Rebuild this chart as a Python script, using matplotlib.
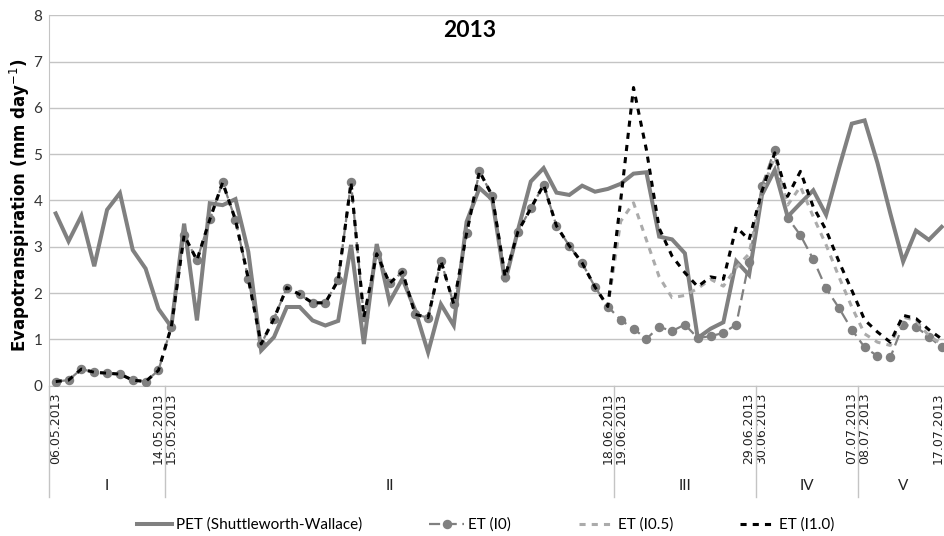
import numpy as np
import matplotlib
matplotlib.use("Agg")
import matplotlib.pyplot as plt
import matplotlib.transforms as mtransforms

# tick labels on the category axis (index -> date)
tick_idx = [0, 8, 9, 43, 44, 54, 55, 62, 63, 69]
tick_labels = ["06.05.2013", "14.05.2013", "15.05.2013", "18.06.2013", "19.06.2013",
               "29.06.2013", "30.06.2013", "07.07.2013", "08.07.2013", "17.07.2013"]

# periods I..V (first index of each period)
group_names = ["I", "II", "III", "IV", "V"]
group_starts = [0, 9, 44, 55, 63]
n_days = 70

pet = [3.72, 3.12, 3.67, 2.58, 3.80, 4.16, 2.93, 2.53, 1.66, 1.27,
       3.50, 1.41, 3.94, 3.90, 4.03, 2.89, 0.76, 1.05, 1.70, 1.70,
       1.41, 1.30, 1.40, 3.04, 0.90, 3.06, 1.81, 2.31, 1.63, 0.72,
       1.76, 1.30, 3.54, 4.27, 4.02, 2.24, 3.36, 4.41, 4.70, 4.17,
       4.12, 4.32, 4.19, 4.25, 4.36, 4.58, 4.61, 3.22, 3.16, 2.86,
       1.03, 1.23, 1.37, 2.69, 2.39, 4.12, 4.66, 3.65, 3.94, 4.22,
       3.69, 4.70, 5.66, 5.73, 4.81, 3.72, 2.68, 3.35, 3.15, 3.43]

et_i0 = [0.09, 0.12, 0.36, 0.29, 0.27, 0.25, 0.12, 0.09, 0.33, 1.27,
         3.25, 2.71, 3.59, 4.39, 3.58, 2.31, 0.90, 1.45, 2.12, 1.97,
         1.79, 1.79, 2.28, 4.39, 1.48, 2.85, 2.21, 2.46, 1.54, 1.47,
         2.70, 1.76, 3.29, 4.63, 4.10, 2.35, 3.33, 3.83, 4.34, 3.45,
         3.02, 2.65, 2.13, 1.71, 1.42, 1.23, 1.01, 1.27, 1.18, 1.32,
         1.03, 1.07, 1.14, 1.32, 2.68, 4.32, 5.10, 3.63, 3.25, 2.73,
         2.10, 1.68, 1.21, 0.83, 0.64, 0.61, 1.32, 1.27, 1.06, 0.83]

et_i05 = [0.09, 0.12, 0.36, 0.29, 0.27, 0.25, 0.12, 0.09, 0.33, 1.27,
          3.25, 2.71, 3.59, 4.39, 3.58, 2.31, 0.90, 1.45, 2.12, 1.97,
          1.79, 1.79, 2.28, 4.39, 1.48, 2.85, 2.21, 2.46, 1.54, 1.47,
          2.70, 1.76, 3.29, 4.63, 4.10, 2.35, 3.33, 3.83, 4.34, 3.45,
          3.02, 2.65, 2.13, 1.71, 3.55, 3.95, 3.15, 2.35, 1.90, 1.95,
          2.10, 2.30, 2.15, 2.55, 2.85, 4.20, 4.95, 3.90, 4.30, 3.65,
          3.04, 2.35, 1.70, 1.12, 0.94, 0.87, 1.48, 1.41, 1.08, 0.90]

et_i10 = [0.09, 0.12, 0.36, 0.29, 0.27, 0.25, 0.12, 0.09, 0.33, 1.27,
          3.25, 2.71, 3.59, 4.39, 3.58, 2.31, 0.90, 1.45, 2.12, 1.97,
          1.79, 1.79, 2.28, 4.39, 1.48, 2.85, 2.21, 2.46, 1.54, 1.47,
          2.70, 1.76, 3.29, 4.63, 4.10, 2.35, 3.33, 3.83, 4.34, 3.45,
          3.02, 2.65, 2.13, 1.71, 4.00, 6.44, 5.10, 3.40, 2.80, 2.44,
          2.14, 2.35, 2.30, 3.43, 3.15, 4.20, 5.03, 4.09, 4.63, 3.86,
          3.36, 2.68, 2.06, 1.42, 1.16, 0.94, 1.52, 1.45, 1.21, 1.01]

plt.rcParams["font.family"] = ["Lato", "DejaVu Sans"]

W, H = 945, 536
fig = plt.figure(figsize=(W / 100, H / 100), dpi=100)
left_px, right_px, top_px, bot_px = 49.3, 945, 15.3, 385.7
ax = fig.add_axes([left_px / W, 1 - bot_px / H, (right_px - left_px) / W, (bot_px - top_px) / H])

x = np.arange(n_days)
ax.plot(x, pet, color="#808080", lw=2.9, solid_joinstyle="miter", zorder=2,
        label="PET (Shuttleworth-Wallace)")
ax.plot(x, et_i0, color="#808080", lw=1.6, ls=(0, (5, 2.5)), marker="o", ms=5.8,
        mec="#808080", mfc="#808080", zorder=3, label="ET (I0)")
ax.plot(x, et_i05, color="#ABABAB", lw=2.2, ls=(0, (2, 2)), zorder=4, label="ET (I0.5)")
ax.plot(x, et_i10, color="black", lw=2.2, ls=(0, (2, 2)), zorder=5, label="ET (I1.0)")

slot = (right_px - left_px) / 12.84
ax.set_xlim(-0.5, slot - 0.5)
ax.set_ylim(0, 8)
ax.set_yticks(range(9))
ax.yaxis.grid(True, color="#C4C4C4", lw=1)
ax.set_axisbelow(True)
for s in ["top", "right"]:
    ax.spines[s].set_visible(False)
ax.spines["left"].set_color("#C4C4C4")
ax.spines["bottom"].set_color("#C4C4C4")
ax.tick_params(axis="y", length=0, pad=5, labelsize=11, labelcolor="#333333")
ax.set_xticks(tick_idx)
ax.set_xticklabels(tick_labels, rotation=90, family="DejaVu Sans", fontsize=9, color="#222222")
ax.tick_params(axis="x", length=0, pad=5)
# last label sits at the right edge; nudge it in a little
last = ax.get_xticklabels()[-1]
last.set_transform(last.get_transform() + mtransforms.ScaledTranslation(-4 / 100, 0, fig.dpi_scale_trans))

# category group separators and period labels
trans = mtransforms.blended_transform_factory(ax.transData, ax.transAxes)
bounds = [s - 0.5 for s in group_starts]
for b in bounds:
    ax.plot([b, b], [0, -0.30], color="#C4C4C4", lw=1, transform=trans, clip_on=False)
ends = group_starts[1:] + [n_days]
for name, s, e in zip(group_names, group_starts, ends):
    ax.text((s + e - 1) / 2, -0.27, name, transform=trans, ha="center", va="center",
            fontsize=11, color="#222222")

ax.text((470 - left_px) / (right_px - left_px), (bot_px - 31) / (bot_px - top_px), "2013",
        transform=ax.transAxes, ha="center", va="center", fontsize=16.5,
        fontweight="bold")

fig.text(20 / W, 1 - 205 / H, r"Evapotranspiration (mm day$^{-1}$)", rotation=90,
         ha="center", va="center", fontsize=12, fontweight="bold", family="DejaVu Sans")

fig.legend(loc="center", bbox_to_anchor=(0.514, 1 - 525 / H), ncol=4, frameon=False,
           fontsize=11, handlelength=2.3, handletextpad=0.26, columnspacing=4.4,
           numpoints=1)

fig.savefig("out.png", dpi=100)
